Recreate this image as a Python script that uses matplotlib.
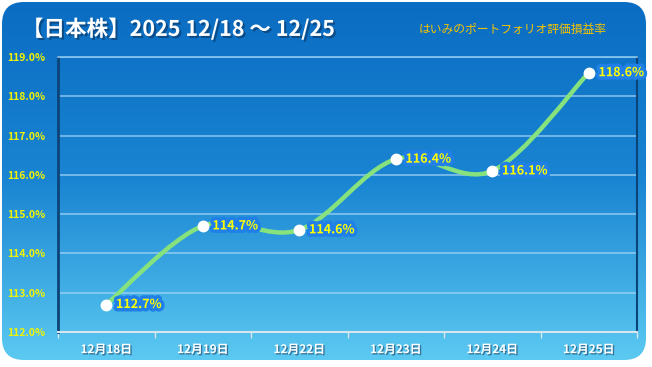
import numpy as np
import matplotlib
matplotlib.use('Agg')
from matplotlib import pyplot as plt
from matplotlib.patches import FancyBboxPatch, PathPatch
from matplotlib.path import Path
from matplotlib.colors import LinearSegmentedColormap
import matplotlib.patheffects as pe

plt.rcParams['font.family'] = ['Noto Sans CJK JP', 'DejaVu Sans']

# データ
dates = ['12月18日', '12月19日', '12月22日', '12月23日', '12月24日', '12月25日']
rates = [112.7, 114.7, 114.6, 116.4, 116.1, 118.6]
title = '【日本株】2025 12/18 ～ 12/25'
subtitle = 'はいみのポートフォリオ評価損益率'

fig = plt.figure(figsize=(6.52, 3.67), dpi=100)
fig.patch.set_facecolor('white')

# 背景（角丸＋グラデーション）
bg = fig.add_axes([0, 0, 1, 1])
bg.set_xlim(0, 652)
bg.set_ylim(367, 0)
bg.axis('off')
cmap = LinearSegmentedColormap.from_list('bg', ['#0a6cc2', '#1a85d2', '#5ccaf2'])
grad = np.linspace(0, 1, 256).reshape(-1, 1)
im = bg.imshow(grad, cmap=cmap, aspect='auto', extent=(0, 652, 362, 0))
box = FancyBboxPatch((2, 2), 644, 358, boxstyle='round,pad=0,rounding_size=22',
                     transform=bg.transData, facecolor='none', edgecolor='none')
bg.add_patch(box)
im.set_clip_path(box)

ax = fig.add_axes([58 / 652, 35 / 367, 579 / 652, 275 / 367])
ax.patch.set_alpha(0)
ax.set_xlim(-0.5, 5.5)
ax.set_ylim(112, 119)

# 目盛
ax.set_yticks(np.arange(112, 119.1, 1))
ax.set_yticklabels(['%.1f%%' % v for v in np.arange(112, 119.1, 1)],
                   color='#f4f400', fontsize=7.5, fontweight='bold')
ax.tick_params(axis='y', length=0, pad=9)
ax.set_xticks(range(len(dates)))
ax.set_xticklabels(dates, color='white', fontsize=8.5, fontweight='bold')
for t in ax.get_xticklabels():
    t.set_path_effects([pe.withSimplePatchShadow(offset=(1, -1), shadow_rgbFace='#204060', alpha=0.6)])
ax.tick_params(axis='x', length=0, pad=8)
ax.set_xticks(np.arange(-0.5, 5.6, 1), minor=True)
ax.tick_params(axis='x', which='minor', length=4, color='#d8e4ee', width=1)

ax.grid(axis='y', color='#a8d6f6', lw=1.1, alpha=0.8)
ax.set_axisbelow(True)
ax.spines['left'].set_color('#0b4478')
ax.spines['left'].set_linewidth(2)
ax.spines['right'].set_color('#0b4478')
ax.spines['right'].set_linewidth(1.5)
ax.spines['top'].set_color('#8cc8f0')
ax.spines['top'].set_linewidth(1.2)
ax.spines['bottom'].set_color('#d8e4ee')
ax.spines['bottom'].set_linewidth(1.5)

# 滑らかな線（Excel風のベジェ）
x = np.arange(len(rates), dtype=float)
y = np.array(rates)
px = np.concatenate([[x[0]], x, [x[-1]]])
py = np.concatenate([[y[0]], y, [y[-1]]])
verts = [(x[0], y[0])]
codes = [Path.MOVETO]
for i in range(1, len(px) - 2):
    c1 = (px[i] + (px[i + 1] - px[i - 1]) / 6, py[i] + (py[i + 1] - py[i - 1]) / 6)
    c2 = (px[i + 1] - (px[i + 2] - px[i]) / 6, py[i + 1] - (py[i + 2] - py[i]) / 6)
    verts += [c1, c2, (px[i + 1], py[i + 1])]
    codes += [Path.CURVE4] * 3
ax.add_patch(PathPatch(Path(verts, codes), facecolor='none', edgecolor='#86e27c',
                       lw=3.2, capstyle='round', zorder=3))
ax.plot(x, y, 'o', color='white', ms=7.5, zorder=4)

for xi, yi in zip(x, y):
    ax.annotate('%.1f%%' % yi, (xi, yi), xytext=(7, 0), textcoords='offset points',
                va='center', ha='left', color='#ffff00', fontsize=9, fontweight='bold',
                zorder=5,
                path_effects=[pe.withStroke(linewidth=5, foreground='#2080e8')])

fig.text(22 / 652, 1 - 29 / 367, title, color='white', fontsize=15.5, fontweight='bold',
         va='center', ha='left',
         path_effects=[pe.withSimplePatchShadow(offset=(1.5, -1.5), shadow_rgbFace='#0a3560', alpha=0.6)])
fig.text(513 / 652, 1 - 29 / 367, subtitle, color='#f5c400', fontsize=8.5,
         va='center', ha='center')

fig.savefig('out.png', dpi=100)
